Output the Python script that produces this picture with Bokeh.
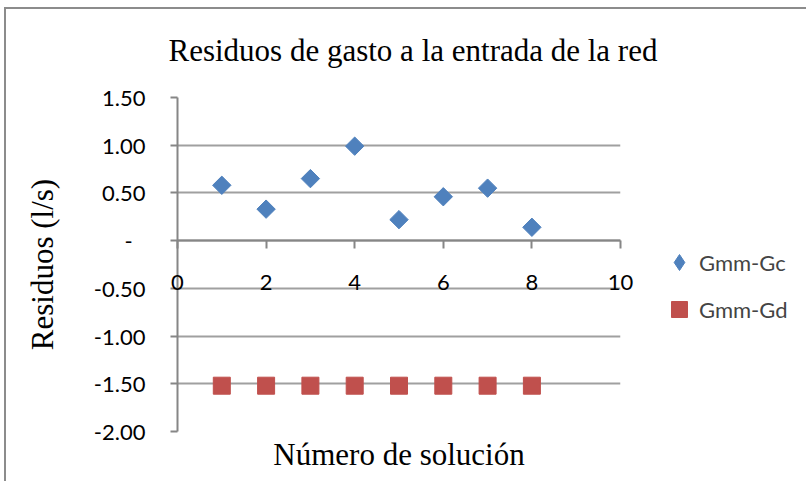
import numpy as np
from bokeh.plotting import figure
from bokeh.models import (Range1d, FixedTicker, CustomJSTickFormatter,
                          Legend, LegendItem, Title)
from bokeh.embed import file_html
from bokeh.resources import INLINE

# ---- data ----
solution = [1, 2, 3, 4, 5, 6, 7, 8]
gmm_gc = [0.58, 0.33, 0.65, 0.99, 0.22, 0.46, 0.55, 0.14]
gmm_gd = [-1.52, -1.52, -1.52, -1.52, -1.52, -1.52, -1.52, -1.52]
x_ticks = [0, 2, 4, 6, 8, 10]
y_ticks = [-2.0, -1.5, -1.0, -0.5, 0.0, 0.5, 1.0, 1.5]
series_names = ["Gmm-Gc", "Gmm-Gd"]
chart_title = "Residuos de gasto a la entrada de la red"
x_title = "Número de solución"
y_title = "Residuos (l/s)"

BLUE = "#4F81BD"
RED = "#C0504D"
AXIS = "#868686"
GRID = "#a0a0a0"
SANS = "Lato"
SERIF = "Liberation Serif"

FRAME_W, FRAME_H = 443, 334
LEFT, TOP = 177, 97          # frame position on the page

p = figure(frame_width=FRAME_W, frame_height=FRAME_H,
           x_range=Range1d(0, 10), y_range=Range1d(-2, 1.5),
           output_backend="svg", toolbar_location=None,
           min_border_left=LEFT - 6, min_border_top=TOP - 9,
           min_border_right=170, min_border_bottom=50,
           outline_line_color=None,
           styles={"border-left": "2px solid #8c8c8c",
                   "border-top": "2px solid #8c8c8c",
                   "margin-left": "4px", "margin-top": "7px"})

p.title.text = chart_title
p.title.align = "left"
p.title.offset = -9
p.title.standoff = 38
p.title.text_font = SERIF
p.title.text_font_size = "31px"
p.title.text_font_style = "normal"
p.title.text_color = "black"
# small spacer between the title and the plot frame
p.add_layout(Title(text=" ", text_font_size="1px", standoff=8), "above")

# bottom axis of main figure only carries the axis title
xa = p.xaxis[0]
xa.ticker = FixedTicker(ticks=[])
xa.axis_line_color = None
xa.major_tick_line_color = None
xa.minor_tick_line_color = None
xa.major_tick_out = 0
xa.axis_label = x_title
xa.axis_label_text_font = SERIF
xa.axis_label_text_font_size = "31px"
xa.axis_label_text_font_style = "normal"
xa.axis_label_text_color = "black"
xa.axis_label_standoff = 5

ya = p.yaxis[0]
ya.ticker = FixedTicker(ticks=y_ticks)
ya.formatter = CustomJSTickFormatter(
    code="return Math.abs(tick) < 1e-9 ? '-\\u2007' : tick.toFixed(2);")
ya.major_tick_in = 0
ya.major_tick_out = 7
ya.minor_tick_line_color = None
ya.axis_line_color = AXIS
ya.axis_line_width = 2
ya.major_tick_line_color = AXIS
ya.major_tick_line_width = 2
ya.major_label_text_font = SANS
ya.major_label_text_font_size = "22px"
ya.major_label_text_color = "black"
ya.major_label_standoff = 25
ya.axis_label = y_title
ya.axis_label_text_font = SERIF
ya.axis_label_text_font_size = "31px"
ya.axis_label_text_font_style = "normal"
ya.axis_label_text_color = "black"
ya.axis_label_standoff = 31

p.xgrid.grid_line_color = None
p.ygrid.ticker = FixedTicker(ticks=y_ticks)
p.ygrid.grid_line_color = GRID
p.ygrid.grid_line_width = 2

r1 = p.scatter(solution, gmm_gc, marker="square", angle=np.pi / 4, size=13,
               fill_color=BLUE, line_color=BLUE)
r2 = p.scatter(solution, gmm_gd, marker="square", size=17,
               fill_color=RED, line_color=RED)
# legend swatch for the diamond series (legend ignores marker angle)
r1_key = p.scatter(solution, gmm_gc, marker="diamond", size=13,
                   fill_color=BLUE, line_color=BLUE, visible=False)

legend = Legend(items=[LegendItem(label=series_names[0], renderers=[r1_key]),
                       LegendItem(label=series_names[1], renderers=[r2])],
                location=(39, 102), border_line_color=None,
                background_fill_alpha=0, glyph_width=40, glyph_height=40,
                label_text_font=SANS, label_text_font_size="22px",
                padding=0, margin=0, spacing=7, label_standoff=0)
p.add_layout(legend, "right")

# x axis that crosses at y = 0 (overlaid transparent figure sharing x range)
AX_H = 10
q = figure(frame_width=FRAME_W, frame_height=AX_H,
           x_range=p.x_range, y_range=Range1d(0, 1),
           output_backend="svg", toolbar_location=None,
           y_axis_location=None,
           min_border_left=LEFT, min_border_top=0,
           min_border_right=40, min_border_bottom=60,
           outline_line_color=None,
           background_fill_color=None, border_fill_color=None,
           styles={"position": "absolute", "left": "0px",
                   "top": "%dpx" % (TOP + int(round(FRAME_H * 1.5 / 3.5)) - AX_H)})
q.grid.grid_line_color = None
qa = q.xaxis[0]
qa.ticker = FixedTicker(ticks=x_ticks)
qa.major_tick_in = 0
qa.major_tick_out = 8
qa.minor_tick_line_color = None
qa.axis_line_color = AXIS
qa.axis_line_width = 2
qa.major_tick_line_color = AXIS
qa.major_tick_line_width = 2
qa.major_label_text_font = SANS
qa.major_label_text_font_size = "22px"
qa.major_label_text_color = "black"
qa.major_label_standoff = 26

open("out.html", "w").write(file_html([p, q], INLINE))
